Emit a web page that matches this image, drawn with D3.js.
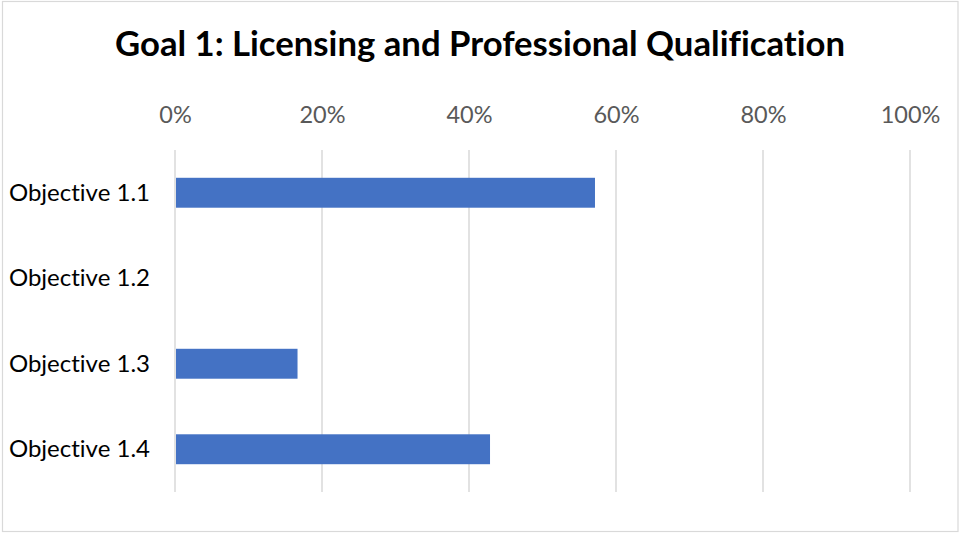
<!DOCTYPE html>
<html>
<head>
<meta charset="utf-8">
<script src="https://cdn.jsdelivr.net/npm/d3@7"></script>
<style>
  html, body { margin: 0; padding: 0; background: #fff; }
  svg { display: block; }
  text { font-variant-ligatures: none; font-feature-settings: "liga" 0, "clig" 0, "dlig" 0; }
</style>
</head>
<body>
<svg id="chart" width="960" height="533"></svg>
<script>
// Chart data
const title = "Goal 1: Licensing and Professional Qualification";
const categories = ["Objective 1.1", "Objective 1.2", "Objective 1.3", "Objective 1.4"];
const values = [0.5714, 0, 0.1667, 0.4286];
const tickValues = [0, 0.2, 0.4, 0.6, 0.8, 1.0];

const W = 960, H = 533;
const margin = { top: 150, right: 50, bottom: 41, left: 175 };
const fontFamily = "Lato, 'Open Sans', sans-serif";

const svg = d3.select("#chart");

// Outer chart border
svg.append("rect")
  .attr("x", 2.5).attr("y", 1.5)
  .attr("width", W - 4.5).attr("height", H - 3)
  .attr("fill", "#fff")
  .attr("stroke", "#d9d9d9")
  .attr("stroke-width", 1.2);

const x = d3.scaleLinear().domain([0, 1]).range([margin.left, W - margin.right]);
const y = d3.scaleBand().domain(categories)
  .range([margin.top, H - margin.bottom])
  .paddingInner(0.65).paddingOuter(0.325);

// Vertical gridlines
svg.append("g")
  .selectAll("line")
  .data(tickValues)
  .join("line")
  .attr("x1", d => x(d)).attr("x2", d => x(d))
  .attr("y1", margin.top).attr("y2", H - margin.bottom)
  .attr("stroke", "#d9d9d9")
  .attr("stroke-width", 1.5);

// Top percentage axis
const xAxis = d3.axisTop(x)
  .tickValues(tickValues)
  .tickFormat(d3.format(".0%"))
  .tickSize(0)
  .tickPadding(0);

const xg = svg.append("g")
  .attr("transform", `translate(0, 123)`)
  .call(xAxis);
xg.select(".domain").remove();
xg.selectAll("text")
  .attr("fill", "#595959")
  .attr("font-family", fontFamily)
  .attr("font-size", 23.5)
  .attr("dy", 0);

// Bars
svg.append("g")
  .selectAll("rect")
  .data(categories.map((c, i) => ({ c, v: values[i] })))
  .join("rect")
  .attr("x", x(0) + 1)
  .attr("y", d => y(d.c))
  .attr("width", d => Math.max(0, x(d.v) - x(0) - 1))
  .attr("height", y.bandwidth())
  .attr("fill", "#4472c4");

// Category labels
const yAxis = d3.axisLeft(y).tickSize(0).tickPadding(25);
const yg = svg.append("g")
  .attr("transform", `translate(${margin.left}, 0)`)
  .call(yAxis);
yg.select(".domain").remove();
yg.selectAll("text")
  .attr("fill", "#000")
  .attr("font-family", fontFamily)
  .attr("font-size", 24)
  .attr("dy", "0.34em");

// Title
svg.append("text")
  .attr("x", 480)
  .attr("y", 56)
  .attr("text-anchor", "middle")
  .attr("font-family", fontFamily)
  .attr("font-weight", "bold")
  .attr("font-size", 34.7)
  .attr("fill", "#000")
  .text(title);
</script>
</body>
</html>
